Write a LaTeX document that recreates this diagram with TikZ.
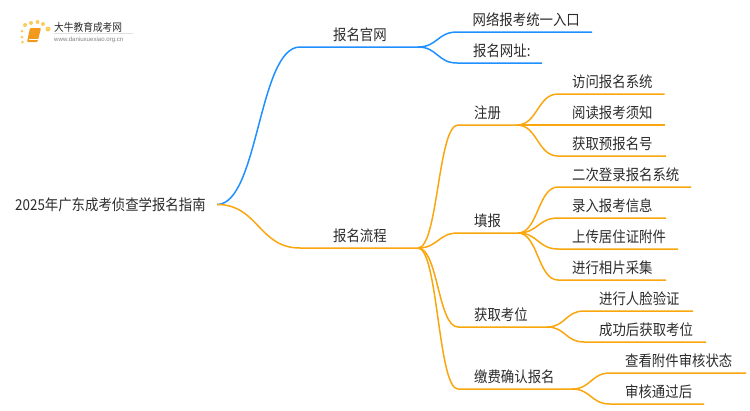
\documentclass[tikz,border=0pt]{standalone}
\usepackage{fontspec}
\setmainfont[FakeStretch=0.89]{Noto Sans CJK SC}
\newfontfamily\latinfont{Liberation Sans}
\usetikzlibrary{calc}
\definecolor{blueline}{HTML}{1E90FF}
\definecolor{orangeline}{HTML}{F9A60F}
\definecolor{inktext}{HTML}{2B2B2B}
\definecolor{bookfill}{HTML}{F39A1E}
\definecolor{sundot}{HTML}{FBCB5C}
\tikzset{topic node/.style={anchor=base west, inner sep=0pt, yshift=-0.7pt, text=inktext, font=\fontsize{15.05}{18}\selectfont},
  blue link/.style={draw=blueline, line width=1.5pt},
  orange link/.style={draw=orangeline, line width=1.5pt},
  branch/.style={to path={.. controls ($(\tikztostart)!0.5!(\tikztostart -| \tikztotarget)$) and ($(\tikztotarget)!0.5!(\tikztotarget -| \tikztostart)$) .. (\tikztotarget)}},
  sun dot/.style={circle, fill=sundot, inner sep=0pt}
}
\begin{document}
\begin{tikzpicture}[x=1pt, y=-1pt]
          \useasboundingbox (0,0) rectangle (750,410);
          % Logo
          \node[sun dot, minimum size=3pt] (d1) at (22.5,42) {};
          \node[sun dot, minimum size=3pt] (d2) at (22,37) {};
          \node[sun dot, minimum size=3pt] (d3) at (22,31) {};
          \node[sun dot, minimum size=4pt] (d4) at (25,25) {};
          \node[sun dot, minimum size=4pt] (d5) at (31,23) {};
          \node[sun dot, minimum size=4pt] (d6) at (37.5,22) {};
          \node[sun dot, minimum size=4pt] (d7) at (43,24) {};
          \node[sun dot, minimum size=5pt] (d8) at (48,29) {};
          \fill[bookfill, rounded corners=1pt] (30,28) -- (41,28) -- (37.5,42) -- (27,42) -- cycle;
          \draw[white, line width=0.5pt] (28.5,39.5) -- (37.5,39.5);
          \node[inner sep=0pt, anchor=base west, text=inktext, font=\fontsize{10.9}{13}\selectfont] (logotitle) at (54,31) {大牛教育成考网};
          \node[inner sep=0pt, anchor=base west, text=gray, font=\latinfont\fontsize{6.1}{8}\selectfont] (logourl) at (54,41) {www.daniuxuexiao.org.cn};
          \draw[black!12, line width=0.5pt] (54,33.5) -- (133,33.5);
          % Root
          \node[topic node] (root) at (15,210) {2025年广东成考侦查学报名指南};
          \coordinate (r0) at (217,204.5);
          % First level
          \node[topic node] (site) at (333,40) {报名官网};
          \coordinate (site0) at (300,47);
          \coordinate (site1) at (418,47);
          \node[topic node] (flow) at (333,241) {报名流程};
          \coordinate (flow0) at (300,248);
          \coordinate (flow1) at (418,248);
          % Website items
          \node[topic node] (entry) at (472.5,25) {网络报考统一入口};
          \coordinate (entry0) at (457,32);
          \coordinate (entry1) at (592,32);
          \node[topic node] (addr) at (473,56) {报名网址:};
          \coordinate (addr0) at (457,63);
          \coordinate (addr1) at (542,63);
          % Second level
          \node[topic node] (reg) at (474,118) {注册};
          \coordinate (reg0) at (458,125);
          \coordinate (reg1) at (517,125);
          \node[topic node] (fill) at (474,226) {填报};
          \coordinate (fill0) at (458,233);
          \coordinate (fill1) at (518,233);
          \node[topic node] (seat) at (474,320) {获取考位};
          \coordinate (seat0) at (458,327);
          \coordinate (seat1) at (547,327);
          \node[topic node] (pay) at (474,382) {缴费确认报名};
          \coordinate (pay0) at (458,389);
          \coordinate (pay1) at (572,389);
          % Register items
          \node[topic node] (visit) at (572,87) {访问报名系统};
          \coordinate (visit0) at (558,94);
          \coordinate (visit1) at (664.5,94);
          \node[topic node] (read) at (572,118) {阅读报考须知};
          \coordinate (read1) at (664.5,125);
          \node[topic node] (prenum) at (572,149) {获取预报名号};
          \coordinate (prenum0) at (558,156);
          \coordinate (prenum1) at (666,156);
          % Fill items
          \node[topic node] (login) at (572,180) {二次登录报名系统};
          \coordinate (login0) at (558,187);
          \coordinate (login1) at (691,187);
          \node[topic node] (info) at (572,211) {录入报考信息};
          \coordinate (info0) at (558,218);
          \coordinate (info1) at (666,218);
          \node[topic node] (upload) at (572,242) {上传居住证附件};
          \coordinate (upload0) at (558,249);
          \coordinate (upload1) at (678,249);
          \node[topic node] (photo) at (572,273) {进行相片采集};
          \coordinate (photo0) at (558,280);
          \coordinate (photo1) at (666,280);
          % Seat items
          \node[topic node] (face) at (599,304) {进行人脸验证};
          \coordinate (face0) at (584,311);
          \coordinate (face1) at (693,311);
          \node[topic node] (done) at (599,335) {成功后获取考位};
          \coordinate (done0) at (584,342);
          \coordinate (done1) at (706,342);
          % Pay items
          \node[topic node] (check) at (625,366) {查看附件审核状态};
          \coordinate (check0) at (610,373);
          \coordinate (check1) at (746,373);
          \node[topic node] (pass) at (625,397) {审核通过后};
          \coordinate (pass0) at (610,404);
          \coordinate (pass1) at (704,404);
          % Connections
          \draw[blue link] (r0) to[branch] (site0) -- (site1);
          \draw[blue link] (site1) to[branch] (entry0) -- (entry1);
          \draw[blue link] (site1) to[branch] (addr0) -- (addr1);
          \draw[orange link] (r0) to[branch] (flow0) -- (flow1);
          \draw[orange link] (flow1) to[branch] (reg0) -- (reg1);
          \draw[orange link] (flow1) to[branch] (fill0) -- (fill1);
          \draw[orange link] (flow1) to[branch] (seat0) -- (seat1);
          \draw[orange link] (flow1) to[branch] (pay0) -- (pay1);
          \draw[orange link] (reg1) to[branch] (visit0) -- (visit1);
          \draw[orange link] (reg1) -- (read1);
          \draw[orange link] (reg1) to[branch] (prenum0) -- (prenum1);
          \draw[orange link] (fill1) to[branch] (login0) -- (login1);
          \draw[orange link] (fill1) to[branch] (info0) -- (info1);
          \draw[orange link] (fill1) to[branch] (upload0) -- (upload1);
          \draw[orange link] (fill1) to[branch] (photo0) -- (photo1);
          \draw[orange link] (seat1) to[branch] (face0) -- (face1);
          \draw[orange link] (seat1) to[branch] (done0) -- (done1);
          \draw[orange link] (pay1) to[branch] (check0) -- (check1);
          \draw[orange link] (pay1) to[branch] (pass0) -- (pass1);
        \end{tikzpicture}
\end{document}
